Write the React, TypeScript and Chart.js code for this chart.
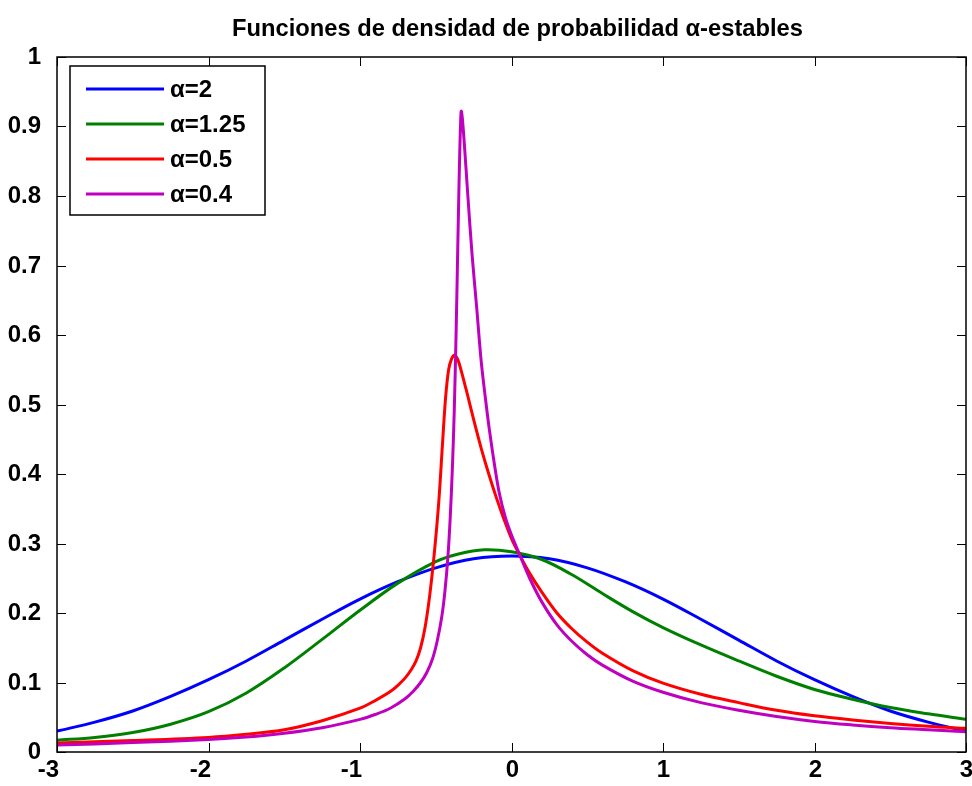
import React, { useEffect, useRef } from "react";
import { Chart, registerables } from "chart.js";

Chart.register(...registerables);

// Chart text
const TITLE = "Funciones de densidad de probabilidad α-estables";
const SERIES_LABELS = ["α=2", "α=1.25", "α=0.5", "α=0.4"];
const SERIES_COLORS = ["#0000FF", "#008000", "#FF0000", "#BF00BF"];

// Axis ticks
const X_TICKS = [-3, -2, -1, 0, 1, 2, 3];
const Y_TICKS = [0, 0.1, 0.2, 0.3, 0.4, 0.5, 0.6, 0.7, 0.8, 0.9, 1];
const Y_TICK_LABELS = ["0", "0.1", "0.2", "0.3", "0.4", "0.5", "0.6", "0.7", "0.8", "0.9", "1"];

// α = 2
const xAlpha2 = [-3, -2.75, -2.5, -2.25, -2, -1.75, -1.5, -1.25, -1, -0.75, -0.5, -0.25, 0, 0.25, 0.5, 0.75, 1, 1.25, 1.5, 1.75, 2, 2.25, 2.5, 2.75, 3];
const yAlpha2 = [0.030, 0.043, 0.059, 0.080, 0.104, 0.131, 0.161, 0.191, 0.220, 0.245, 0.265, 0.278, 0.282, 0.278, 0.265, 0.245, 0.220, 0.191, 0.161, 0.131, 0.104, 0.080, 0.059, 0.043, 0.030];

// α = 1.25
const xAlpha125 = [-3, -2.75, -2.5, -2.25, -2, -1.75, -1.5, -1.25, -1, -0.75, -0.5, -0.35, -0.18, 0, 0.2, 0.4, 0.6, 0.8, 1, 1.25, 1.5, 1.75, 2, 2.25, 2.5, 2.75, 3];
const yAlpha125 = [0.017, 0.021, 0.028, 0.040, 0.058, 0.085, 0.121, 0.162, 0.204, 0.243, 0.274, 0.285, 0.291, 0.288, 0.277, 0.255, 0.228, 0.202, 0.179, 0.154, 0.131, 0.109, 0.090, 0.076, 0.064, 0.055, 0.047];

// α = 0.5
const xAlpha05 = [-3, -2.5, -2, -1.75, -1.5, -1.25, -1, -0.9, -0.8, -0.75, -0.7, -0.66, -0.63, -0.6, -0.57, -0.54, -0.51, -0.48, -0.455, -0.435, -0.415, -0.395, -0.376, -0.355, -0.33, -0.3, -0.27, -0.24, -0.2, -0.15, -0.1, -0.05, 0, 0.05, 0.12, 0.2, 0.3, 0.4, 0.5, 0.6, 0.8, 1, 1.25, 1.5, 1.75, 2, 2.25, 2.5, 2.75, 3];
const yAlpha05 = [0.013, 0.0165, 0.021, 0.0255, 0.032, 0.045, 0.063, 0.074, 0.087, 0.096, 0.107, 0.119, 0.131, 0.150, 0.180, 0.225, 0.285, 0.360, 0.445, 0.510, 0.550, 0.566, 0.571, 0.565, 0.547, 0.522, 0.496, 0.470, 0.437, 0.400, 0.366, 0.335, 0.307, 0.285, 0.257, 0.230, 0.200, 0.177, 0.158, 0.142, 0.117, 0.099, 0.083, 0.071, 0.060, 0.052, 0.046, 0.041, 0.037, 0.034];

// α = 0.4
const xAlpha04 = [-3, -2.5, -2, -1.75, -1.5, -1.25, -1, -0.9, -0.8, -0.7, -0.65, -0.6, -0.56, -0.52, -0.49, -0.46, -0.44, -0.42, -0.405, -0.39, -0.378, -0.366, -0.356, -0.348, -0.341, -0.336, -0.332, -0.326, -0.318, -0.305, -0.288, -0.26, -0.23, -0.2, -0.17, -0.145, -0.11, -0.08, -0.04, 0, 0.05, 0.12, 0.2, 0.3, 0.4, 0.5, 0.6, 0.8, 1, 1.25, 1.5, 1.75, 2, 2.25, 2.5, 2.75, 3];
const yAlpha04 = [0.010, 0.0135, 0.018, 0.0215, 0.027, 0.035, 0.047, 0.054, 0.063, 0.077, 0.087, 0.100, 0.114, 0.135, 0.160, 0.195, 0.230, 0.280, 0.335, 0.410, 0.490, 0.600, 0.710, 0.800, 0.868, 0.905, 0.922, 0.915, 0.895, 0.855, 0.800, 0.715, 0.640, 0.562, 0.505, 0.462, 0.410, 0.372, 0.337, 0.312, 0.286, 0.250, 0.216, 0.183, 0.159, 0.140, 0.125, 0.102, 0.086, 0.071, 0.060, 0.051, 0.044, 0.039, 0.035, 0.032, 0.029];

const SERIES_X = [xAlpha2, xAlpha125, xAlpha05, xAlpha04];
const SERIES_Y = [yAlpha2, yAlpha125, yAlpha05, yAlpha04];

const FONT = '"Liberation Sans", Arial, Helvetica, sans-serif';

// Boxed axes with inward ticks, tick labels, title and an inset legend.
const matlabAxes = {
  id: "matlabAxes",
  afterDraw(chart: any) {
    const { ctx, chartArea } = chart;
    const { left, right, top, bottom } = chartArea;
    const xs = chart.scales.x;
    const ys = chart.scales.y;
    const tickLen = 9;

    ctx.save();
    ctx.strokeStyle = "#000";
    ctx.fillStyle = "#000";
    ctx.lineWidth = 1.5;
    ctx.strokeRect(left, top, right - left, bottom - top);

    ctx.lineWidth = 1;
    ctx.font = `bold 24px ${FONT}`;
    ctx.textBaseline = "top";
    X_TICKS.forEach((v) => {
      const px = Math.round(xs.getPixelForValue(v)) + 0.5;
      ctx.beginPath();
      ctx.moveTo(px, bottom);
      ctx.lineTo(px, bottom - tickLen);
      ctx.moveTo(px, top);
      ctx.lineTo(px, top + tickLen);
      ctx.stroke();
      ctx.textAlign = "center";
      ctx.fillText(String(v), v < 0 ? px - 9 : px, bottom + 6);
    });

    ctx.textBaseline = "middle";
    ctx.textAlign = "right";
    Y_TICKS.forEach((v, i) => {
      const py = Math.round(ys.getPixelForValue(v)) + 0.5;
      ctx.beginPath();
      ctx.moveTo(left, py);
      ctx.lineTo(left + tickLen, py);
      ctx.moveTo(right, py);
      ctx.lineTo(right - tickLen, py);
      ctx.stroke();
      ctx.fillText(Y_TICK_LABELS[i], left - 16, py);
    });

    // Title
    ctx.textAlign = "center";
    ctx.textBaseline = "alphabetic";
    ctx.font = `bold 24px ${FONT}`;
    ctx.fillText(TITLE, (left + right) / 2 + 6, 36, 571);

    // Legend
    const lx = left + 13;
    const ly = top + 9;
    const lw = 195;
    const lh = 149;
    ctx.fillStyle = "#fff";
    ctx.fillRect(lx, ly, lw, lh);
    ctx.strokeStyle = "#000";
    ctx.lineWidth = 1.5;
    ctx.strokeRect(lx, ly, lw, lh);
    ctx.font = `bold 24px ${FONT}`;
    ctx.textAlign = "left";
    ctx.textBaseline = "middle";
    SERIES_LABELS.forEach((label, i) => {
      const ry = ly + 23 + i * 35;
      ctx.strokeStyle = SERIES_COLORS[i];
      ctx.lineWidth = 3;
      ctx.beginPath();
      ctx.moveTo(lx + 16, ry);
      ctx.lineTo(lx + 94, ry);
      ctx.stroke();
      ctx.fillStyle = "#000";
      ctx.fillText(label, lx + 100, ry + 1);
    });
    ctx.restore();
  },
};

export default function App() {
  const canvasRef = useRef<HTMLCanvasElement | null>(null);

  useEffect(() => {
    const canvas = canvasRef.current;
    if (!canvas) return;
    const datasets = SERIES_LABELS.map((label, i) => ({
      label,
      data: SERIES_X[i].map((x, j) => ({ x, y: SERIES_Y[i][j] })),
      borderColor: SERIES_COLORS[i],
      backgroundColor: SERIES_COLORS[i],
      borderWidth: 3,
      borderJoinStyle: "round" as const,
      pointRadius: 0,
      tension: 0.35,
      fill: false,
      order: SERIES_LABELS.length - 1 - i,
    }));
    const chart = new Chart(canvas, {
      type: "line",
      data: { datasets },
      options: {
        responsive: false,
        animation: false,
        devicePixelRatio: 1,
        layout: { padding: { left: 57, right: 6, top: 57, bottom: 34 } },
        scales: {
          x: { type: "linear", min: -3, max: 3, display: false },
          y: { type: "linear", min: 0, max: 1, display: false },
        },
        plugins: {
          legend: { display: false },
          title: { display: false },
          tooltip: { enabled: false },
        },
        events: [],
      },
      plugins: [matlabAxes],
    });
    return () => chart.destroy();
  }, []);

  return (
    <div style={{ position: "fixed", left: 0, top: 0, width: 972, height: 786, background: "#fff" }}>
      <canvas ref={canvasRef} width={972} height={786} />
    </div>
  );
}
